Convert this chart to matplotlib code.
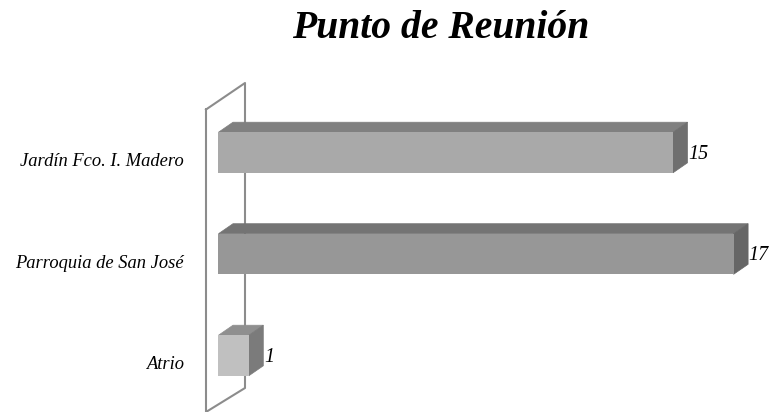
import matplotlib
matplotlib.use("Agg")
import matplotlib.pyplot as plt

categories = ["Atrio", "Parroquia de San José", "Jardín Fco. I. Madero"]
values = [1, 17, 15]
front_colors = ["#c0c0c0", "#979797", "#a9a9a9"]
top_colors = ["#8f8f8f", "#747474", "#808080"]
side_colors = ["#7b7b7b", "#666666", "#6f6f6f"]

W, H = 772, 412
x0_px = 218.5
unit_px = 30.3
row_px = 101.5
row0_px = 355.5
bar_h = 0.4
# depth of the fake 3d in data units
dx = 14.5 / unit_px
dy = 10 / row_px

plt.rcParams['font.family'] = ['Liberation Serif', 'DejaVu Serif']

fig = plt.figure(figsize=(W / 100, H / 100), dpi=100)
ax = fig.add_axes([0, 0, 1, 1])
ax.set_xlim(-x0_px / unit_px, (W - x0_px) / unit_px)
ax.set_ylim(-(H - row0_px) / row_px, row0_px / row_px)
ax.axis('off')

# back wall
wall_l = -12.5 / unit_px
wall_r = 26.5 / unit_px
wall_x = [wall_l, wall_r, wall_r, wall_l, wall_l]
wall_y = [(row0_px - 109.5) / row_px, (row0_px - 83) / row_px,
          (row0_px - 388) / row_px, (row0_px - 412) / row_px,
          (row0_px - 109.5) / row_px]
ax.plot(wall_x, wall_y, color="#8c8c8c", lw=1.5, clip_on=False, zorder=1)

for i, (name, v) in enumerate(zip(categories, values)):
    lo, hi = i - bar_h / 2, i + bar_h / 2
    ax.barh(i, v, height=bar_h, color=front_colors[i], zorder=3)
    ax.fill([0, v, v + dx, dx], [hi, hi, hi + dy, hi + dy], color=top_colors[i], lw=0.5, zorder=2)
    ax.fill([v, v + dx, v + dx, v], [lo, lo + dy, hi + dy, hi], color=side_colors[i], lw=0.5, zorder=2)
    ax.text(-34.5 / unit_px, i - 13.7 / row_px, name, ha='right', va='baseline',
            style='italic', fontsize=13.3, color='black')
    ax.text(v + dx + 0.5 / unit_px, i - 6 / row_px, str(v), ha='left', va='baseline',
            style='italic', fontsize=14.5, color='black')

fig.text(441 / W, 1 - 38 / H, "Punto de Reunión", ha='center', va='baseline',
         style='italic', weight='bold', fontsize=28.5, color='black')

fig.savefig("out.png", dpi=100, facecolor='white')
